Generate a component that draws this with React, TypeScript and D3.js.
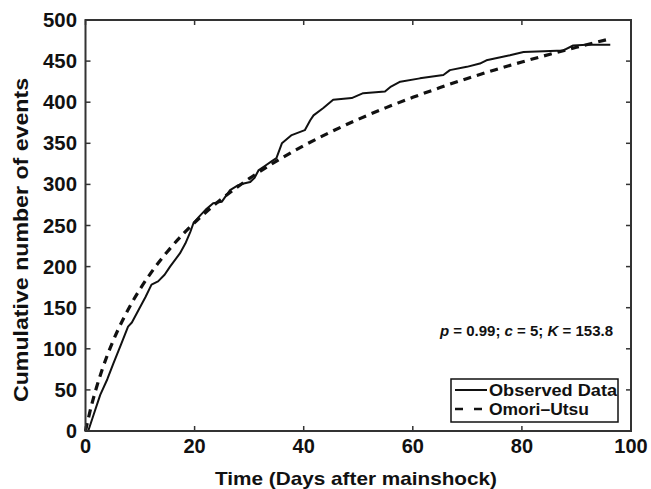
import React from "react";
import * as d3 from "d3";

const obsTime = [0.5, 1.5, 2.7, 4, 5.1, 6.5, 7.8, 8.5, 9.7, 11, 12.1, 13.3, 14.5, 15.5, 17.3, 18.3, 19.2, 19.8, 21, 22, 23.4, 25, 26.5, 28, 29, 30.2, 31, 31.7, 33, 34.1, 35, 36, 37.8, 40.2, 41.2, 41.8, 43.6, 45.4, 48.8, 50.9, 54.9, 56, 57.7, 61.3, 65.6, 66.8, 69.9, 72.3, 73.5, 77.8, 80.3, 84, 87.6, 89.4, 91.9, 96.2];
const obsCount = [0, 20, 44, 63, 82, 105, 127, 132, 147, 163, 178, 182, 190, 200, 216, 228, 242, 253, 262, 269, 277, 279, 293, 299, 301, 303, 308, 317, 323, 328, 332, 350, 360, 366, 378, 384, 393, 403, 405, 411, 413, 419, 425, 429, 433, 439, 443, 447, 451, 457, 461, 462, 463, 469, 470, 470];

const fitTime = [0, 1, 2, 3, 4, 5, 6, 8, 10, 12, 15, 18, 20, 25, 30, 35, 40, 45, 50, 55, 60, 65, 70, 75, 80, 85, 90, 96];
const fitCount = [0, 28.5, 52.7, 73.6, 92.1, 108.7, 123.7, 150.0, 172.6, 192.4, 218.1, 240.3, 253.5, 282.5, 307.0, 328.3, 347.1, 363.9, 379.2, 393.1, 405.9, 417.8, 428.9, 439.2, 448.9, 458.1, 466.8, 476.8];

const xTicks = [0, 20, 40, 60, 80, 100];
const yTicks = [0, 50, 100, 150, 200, 250, 300, 350, 400, 450, 500];

const legendLabels = ["Observed Data", "Omori\u2013Utsu"];
const xTitle = "Time (Days after mainshock)";
const yTitle = "Cumulative number of events";

const W = 651;
const H = 489;
const FONT = "'Liberation Sans', Arial, Helvetica, sans-serif";

export default function App() {
  const x = d3.scaleLinear().domain([0, 100]).range([85.5, 631]);
  const y = d3.scaleLinear().domain([0, 500]).range([431, 20]);
  const x0 = x.range()[0], x1 = x.range()[1];
  const y0 = y.range()[0], y1 = y.range()[1];

  const line = d3
    .line<[number, number]>()
    .x((d) => x(d[0]))
    .y((d) => y(d[1]));
  const obsPath = line(obsTime.map((t, i) => [t, obsCount[i]]) as [number, number][]) || "";
  const fitPath = line
    .curve(d3.curveMonotoneX)(fitTime.map((t, i) => [t, fitCount[i]]) as [number, number][]) || "";

  const axisColor = "#333";
  const tl = 5;

  return (
    <svg
      width={W}
      height={H}
      style={{ position: "absolute", left: 0, top: 0, background: "#fff" }}
      fontFamily={FONT}
      fontWeight="bold"
    >
      <rect x={0} y={0} width={W} height={H} fill="#fff" />
      {/* lines */}
      <path d={fitPath} fill="none" stroke="#111" strokeWidth={3.2} strokeDasharray="8,6" />
      <path d={obsPath} fill="none" stroke="#111" strokeWidth={2} strokeLinejoin="round" />

      {/* box */}
      <rect x={x0} y={y1} width={x1 - x0} height={y0 - y1} fill="none" stroke={axisColor} strokeWidth={2} />

      {/* x ticks */}
      {xTicks.map((t) => (
        <g key={"xt" + t}>
          <line x1={x(t)} x2={x(t)} y1={y0} y2={y0 - tl} stroke={axisColor} strokeWidth={1.5} />
          <line x1={x(t)} x2={x(t)} y1={y1} y2={y1 + tl} stroke={axisColor} strokeWidth={1.5} />
          <text x={x(t)} y={453} textAnchor="middle" fontSize={20} fill="#111">
            {t}
          </text>
        </g>
      ))}
      {/* y ticks */}
      {yTicks.map((v) => (
        <g key={"yt" + v}>
          <line x1={x0} x2={x0 + tl} y1={y(v)} y2={y(v)} stroke={axisColor} strokeWidth={1.5} />
          <line x1={x1} x2={x1 - tl} y1={y(v)} y2={y(v)} stroke={axisColor} strokeWidth={1.5} />
          <text x={77} y={y(v) + 7} textAnchor="end" fontSize={20} fill="#111" textLength={v >= 100 ? 34 : v >= 10 ? 22.5 : 11} lengthAdjust="spacingAndGlyphs">
            {v}
          </text>
        </g>
      ))}

      {/* axis titles */}
      <text x={215} y={485} fontSize={19} fill="#111" textLength={282} lengthAdjust="spacingAndGlyphs">
        {xTitle}
      </text>
      <text
        transform={`translate(28,402) rotate(-90)`}
        fontSize={20}
        fill="#111"
        textLength={324}
        lengthAdjust="spacingAndGlyphs"
      >
        {yTitle}
      </text>

      {/* annotation */}
      <text x={613} y={336} fontSize={15} fill="#111" textAnchor="end">
        <tspan fontStyle="italic">p</tspan>
        {" = 0.99; "}
        <tspan fontStyle="italic">c</tspan>
        {" = 5; "}
        <tspan fontStyle="italic">K</tspan>
        {" = 153.8"}
      </text>

      {/* legend */}
      <rect x={451} y={379} width={167} height={43} fill="#fff" stroke="#111" strokeWidth={1.5} />
      <line x1={455} x2={487} y1={390} y2={390} stroke="#111" strokeWidth={2} />
      <text x={489} y={396} fontSize={16} fill="#111" textLength={128} lengthAdjust="spacingAndGlyphs">
        {legendLabels[0]}
      </text>
      <line x1={455} x2={483} y1={409} y2={409} stroke="#111" strokeWidth={2.5} strokeDasharray="8,11" />
      <text x={489} y={415} fontSize={16} fill="#111" textLength={100} lengthAdjust="spacingAndGlyphs">
        {legendLabels[1]}
      </text>
    </svg>
  );
}
